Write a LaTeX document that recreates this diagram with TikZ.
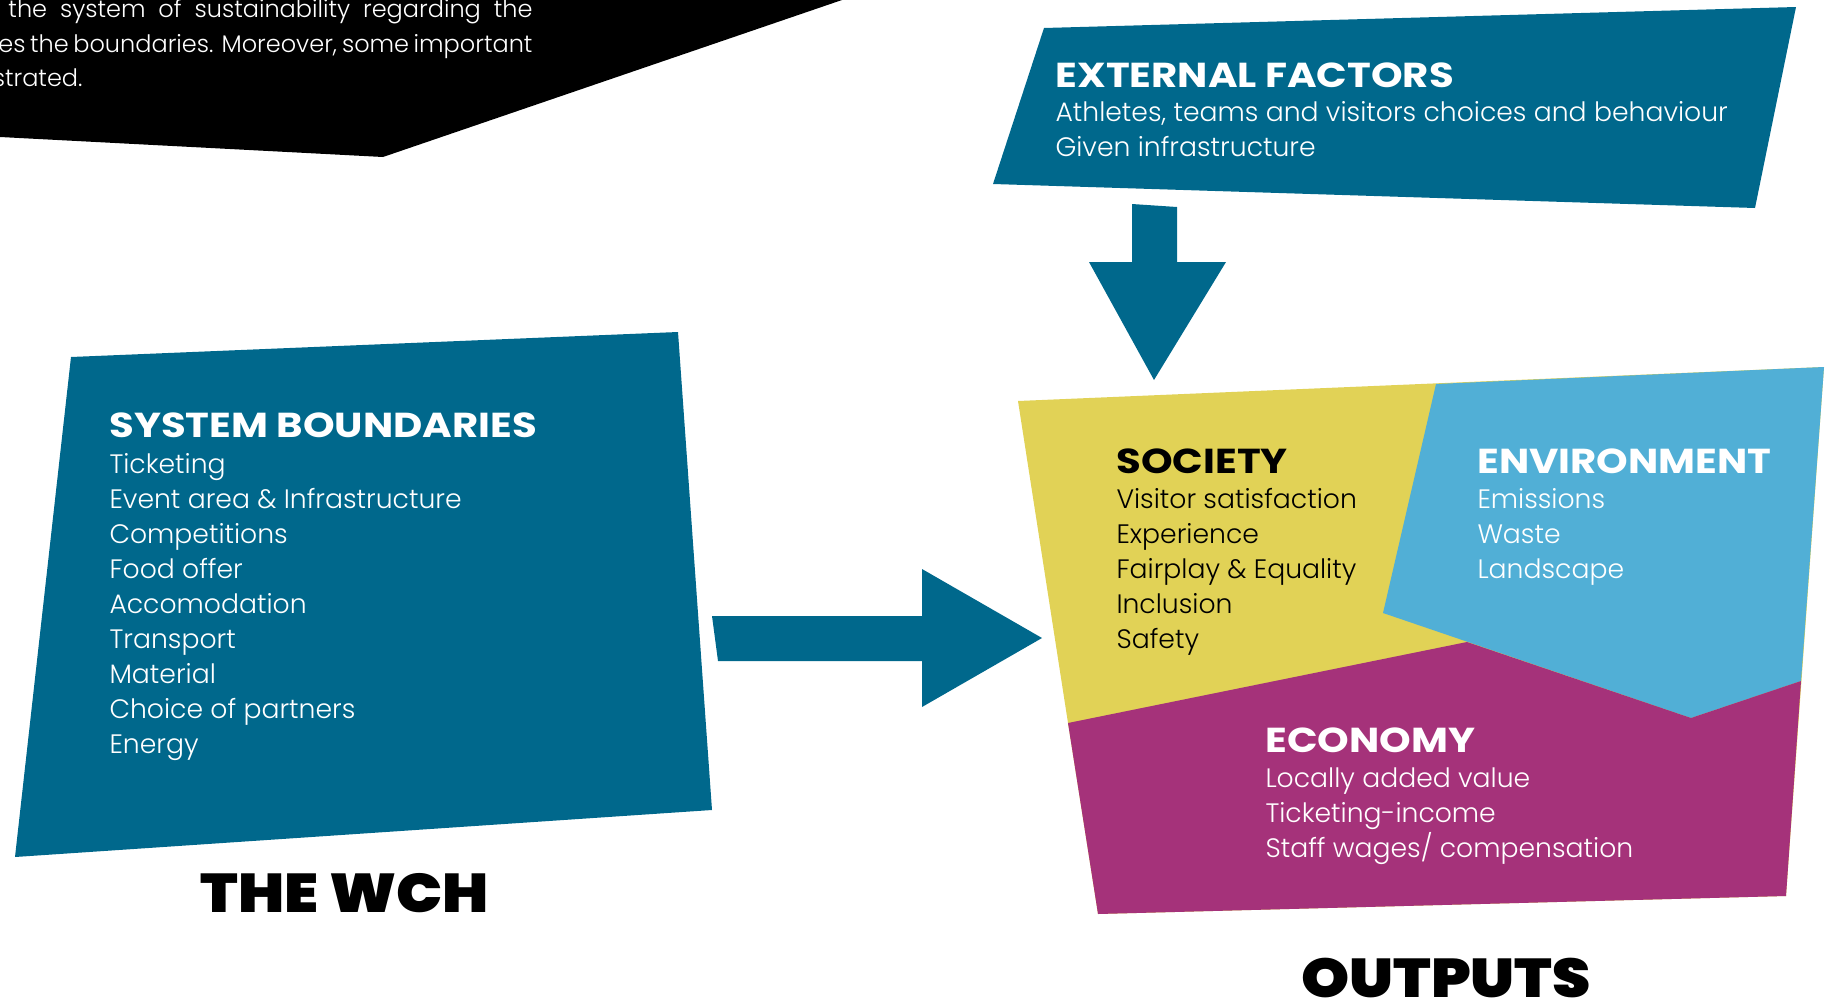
\documentclass[tikz,border=0pt]{standalone}
\usepackage{fontspec}
\setmainfont{Poppins}
\newfontfamily\lightfont{Poppins Light}
\newfontfamily\headfont{Poppins Bold}[FakeStretch=1.16]
\newfontfamily\heavyfont{Poppins Black}[FakeStretch=1.12]

\definecolor{wchTeal}{RGB}{0,104,140}
\definecolor{socYellow}{RGB}{225,210,86}
\definecolor{envBlue}{RGB}{81,175,214}
\definecolor{ecoPurple}{RGB}{165,50,122}

\tikzset{every picture/.style={line width=0.75pt},
	itemtext/.style={font=\lightfont\fontsize{20}{24}\selectfont, anchor=base west, inner sep=0pt},
	introtext/.style={font=\lightfont\fontsize{18}{22}\selectfont, anchor=base west, inner sep=0pt, white},
	headtext/.style={font=\headfont\fontsize{26}{30}\selectfont, anchor=base west, inner sep=0pt},
	bigtext/.style={font=\heavyfont\fontsize{41}{48}\selectfont, anchor=base, inner sep=0pt}}

\begin{document}
\begin{tikzpicture}[x=0.75pt,y=0.75pt,yscale=-1,xscale=1]
	\path[use as bounding box] (0,0) rectangle (1832,1003);

	%Shape: Polygon [black banner]
	\fill[black] (0,0) -- (842,0) -- (383,157) -- (0,137) -- cycle;
	%Shape: Polygon [system boundaries]
	\fill[wchTeal] (71,357) -- (678,332) -- (712,810) -- (15,857) -- cycle;
	%Shape: Arrow [to outputs]
	\fill[wchTeal] (712,616) -- (922,616) -- (922,569) -- (1042,638) -- (922,707) -- (922,661) -- (718,661) -- cycle;
	%Shape: Polygon [external factors]
	\fill[wchTeal] (1044,28) -- (1796,7) -- (1755,208) -- (993,184) -- cycle;
	%Shape: Arrow [down]
	\fill[wchTeal] (1132,204) -- (1177,207) -- (1177,262) -- (1226,262) -- (1154,380) -- (1089,262) -- (1132,262) -- cycle;
	%Shape: Polygon [society]
	\fill[socYellow] (1018,401) -- (1824,367) -- (1786,896) -- (1098,914) -- (1068,723) -- cycle;
	%Shape: Polygon [environment]
	\fill[envBlue] (1436,384) -- (1824,367) -- (1801,681) -- (1691,718) -- (1383,613) -- cycle;
	%Shape: Polygon [economy]
	\fill[ecoPurple] (1068,723) -- (1467,642) -- (1691,718) -- (1801,681) -- (1786,896) -- (1098,914) -- cycle;

	% Text Node
	\node[introtext] (intro1) at (8,17) {\makebox[393pt][s]{the system of sustainability regarding the}};
	% Text Node
	\node[introtext] (intro2) at (-2,52) {\makebox[400.5pt][s]{es the boundaries. Moreover, some important}};
	% Text Node
	\node[introtext, anchor=base east] (intro3) at (83,86) {strated.};

	% Text Node
	\node[headtext, white] (extTitle) at (1055,87) {EXTERNAL FACTORS};
	\node[itemtext, white] (ext1) at (1055,121) {Athletes, teams and visitors choices and behaviour};
	\node[itemtext, white] (ext2) at (1055,156) {Given infrastructure};

	% Text Node
	\node[headtext, white] (sysTitle) at (109,437) {SYSTEM BOUNDARIES};
	\foreach \t [count=\i] in {Ticketing, Event area \& Infrastructure, Competitions, Food offer, Accomodation, Transport, Material, Choice of partners, Energy}
		\node[itemtext, white] (sys\i) at (109,{473+35*(\i-1)}) {\t};

	% Text Node
	\node[headtext, black] (socTitle) at (1116,473) {SOCIETY};
	\foreach \t [count=\i] in {Visitor satisfaction, Experience, Fairplay \& Equality, Inclusion, Safety}
		\node[itemtext, black] (soc\i) at (1116,{508+35*(\i-1)}) {\t};

	% Text Node
	\node[headtext, white] (envTitle) at (1477,473) {ENVIRONMENT};
	\foreach \t [count=\i] in {Emissions, Waste, Landscape}
		\node[itemtext, white] (env\i) at (1477,{508+35*(\i-1)}) {\t};

	% Text Node
	\node[headtext, white] (ecoTitle) at (1265,752) {ECONOMY};
	\foreach \t [count=\i] in {Locally added value, Ticketing-income, Staff wages/ compensation}
		\node[itemtext, white] (eco\i) at (1265,{787+35*(\i-1)}) {\t};

	% Text Node
	\node[bigtext] (wchLabel) at (345,912) {THE WCH};
	% Text Node
	\node[bigtext] (outLabel) at (1446,997) {OUTPUTS};

\end{tikzpicture}
\end{document}
